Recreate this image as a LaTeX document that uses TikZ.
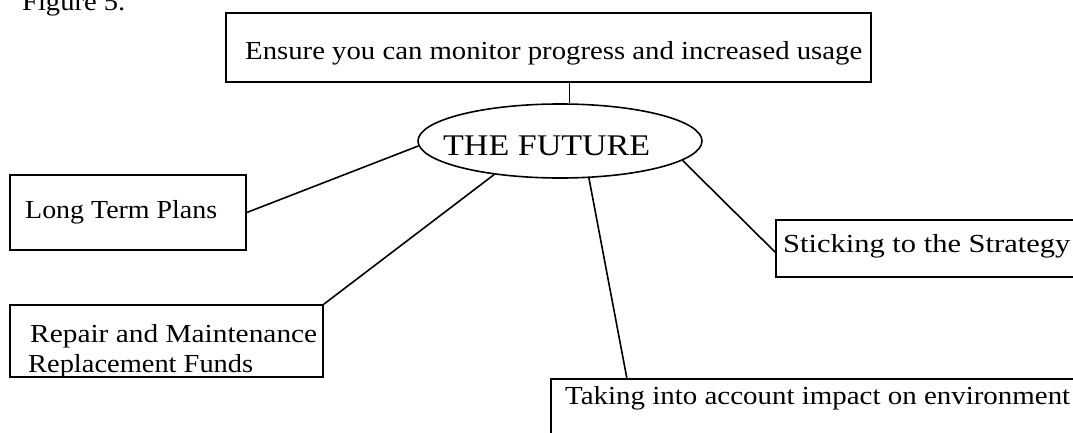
\documentclass[tikz,border=0pt]{standalone}
\usepackage{fontspec}
\usepackage{graphicx}
\setmainfont{Liberation Serif}
\usetikzlibrary{shapes.geometric}
\newcommand{\fitw}[2]{\resizebox{#1}{\height}{#2}}
\tikzset{
  box/.style={draw, line width=1.6pt, rectangle, inner sep=0pt},
  txt/.style={anchor=base west, inner sep=0pt, font=\fontsize{26}{30}\selectfont},
  link/.style={line width=1.6pt}
}
\begin{document}
\begin{tikzpicture}[x=1pt,y=-1pt]
\useasboundingbox (0,0) rectangle (1073,433);
% boxes
\node[box, minimum width=645pt, minimum height=69pt] (top) at (548.5,47.5) {};
\node[box, minimum width=236pt, minimum height=75pt] (ltp) at (128,212.5) {};
\node[box, minimum width=313pt, minimum height=72pt] (rep) at (166.5,341) {};
\node[box, minimum width=309pt, minimum height=57pt] (stick) at (930.5,248.5) {};
\node[box, minimum width=534pt, minimum height=71pt] (take) at (818,414.5) {};
\node[draw, line width=1.6pt, ellipse, minimum width=284pt, minimum height=74pt, inner sep=0pt] (ell) at (560,141) {};
% texts
\node[txt] (fig) at (22,11) {\fitw{103pt}{Figure 5.}};
\node[txt] (toptxt) at (245,60) {\fitw{617pt}{Ensure you can monitor progress and increased usage}};
\node[txt, font=\fontsize{30}{34}\selectfont] (ftxt) at (443,155) {\fitw{207pt}{THE FUTURE}};
\node[txt] (ltptxt) at (25,218) {\fitw{192pt}{Long Term Plans}};
\node[txt] (reptxta) at (30,342) {\fitw{287pt}{Repair and Maintenance}};
\node[txt] (reptxtb) at (28,372) {\fitw{225pt}{Replacement Funds}};
\node[txt] (sticktxt) at (783,252) {\fitw{287pt}{Sticking to the Strategy}};
\node[txt] (taketxt) at (565,404) {\fitw{505pt}{Taking into account impact on environment}};
% connector ends
\coordinate (takept) at (627,379);
\coordinate (stickpt) at (776,253);
% connectors
\draw[link] (ell.76 |- top.south) -- (ell.76);
\draw[link] (ltp.east) -- (ell.182);
\draw[link] (rep.north east) -- (ell.207);
\draw[link] (ell.-52) -- (takept);
\draw[link] (ell.-9) -- (stickpt);
\end{tikzpicture}
\end{document}
